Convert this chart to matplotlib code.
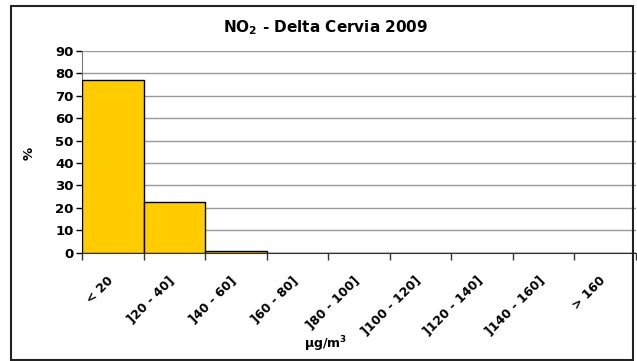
import numpy as np
import matplotlib.pyplot as plt
from matplotlib.patches import Rectangle

plt.rcParams["font.family"] = ["DejaVu Sans"]
plt.rcParams["font.weight"] = "bold"
plt.rcParams["mathtext.default"] = "bf"

categories = ["< 20", "]20 - 40]", "]40 - 60]", "]60 - 80]", "]80 - 100]",
              "]100 - 120]", "]120 - 140]", "]140 - 160]", "> 160"]
percent = [76.9, 22.5, 0.6, 0, 0, 0, 0, 0, 0]
y_ticks = list(range(0, 100, 10))


def main():
    fig = plt.figure(figsize=(6.37, 3.61), dpi=100)
    fig.patches.append(Rectangle((11 / 637, 1 / 361), 622 / 637, 354 / 361,
                                 transform=fig.transFigure, fill=False,
                                 edgecolor="#222222", linewidth=1.5))
    ax = fig.add_axes([82 / 637, 1 - 252.7 / 361, 554 / 637, 201.7 / 361])

    x = np.arange(len(categories))
    ax.bar(x, percent, width=1.0, color="#FFCC00", edgecolor="black",
           linewidth=1.0, zorder=3)

    ax.set_xlim(-0.5, len(categories) - 0.5)
    ax.set_ylim(0, 90)
    ax.set_yticks(y_ticks)
    ax.yaxis.grid(True, color="#999999", linewidth=1.0, zorder=0)
    ax.tick_params(axis="y", labelsize=9.5, length=4, width=1, pad=2)

    ax.set_xticks(np.arange(len(categories) + 1) - 0.5)
    ax.set_xticklabels([])
    ax.tick_params(axis="x", length=5, width=1, color="#333333")
    for i, lab in enumerate(categories):
        ax.text(i - 0.1, -9.5, lab, rotation=45, ha="right", va="top",
                rotation_mode="anchor", fontsize=9, fontweight="bold")

    for side in ["top", "right"]:
        ax.spines[side].set_visible(False)
    ax.spines["left"].set_color("#777777")
    ax.spines["bottom"].set_color("#333333")

    fig.text(326 / 637, 1 - 28 / 361, "NO$_2$ - Delta Cervia 2009",
             ha="center", va="center", fontsize=11, fontweight="bold")
    fig.text(29 / 637, 1 - 153 / 361, "%", rotation=90, ha="center",
             va="center", fontsize=9.5, fontweight="bold")
    fig.text(326 / 637, 1 - 344 / 361, "µg/m$^3$", ha="center",
             va="center", fontsize=9, fontweight="bold")

    fig.savefig("out.png", dpi=100)


if __name__ == "__main__":
    main()
